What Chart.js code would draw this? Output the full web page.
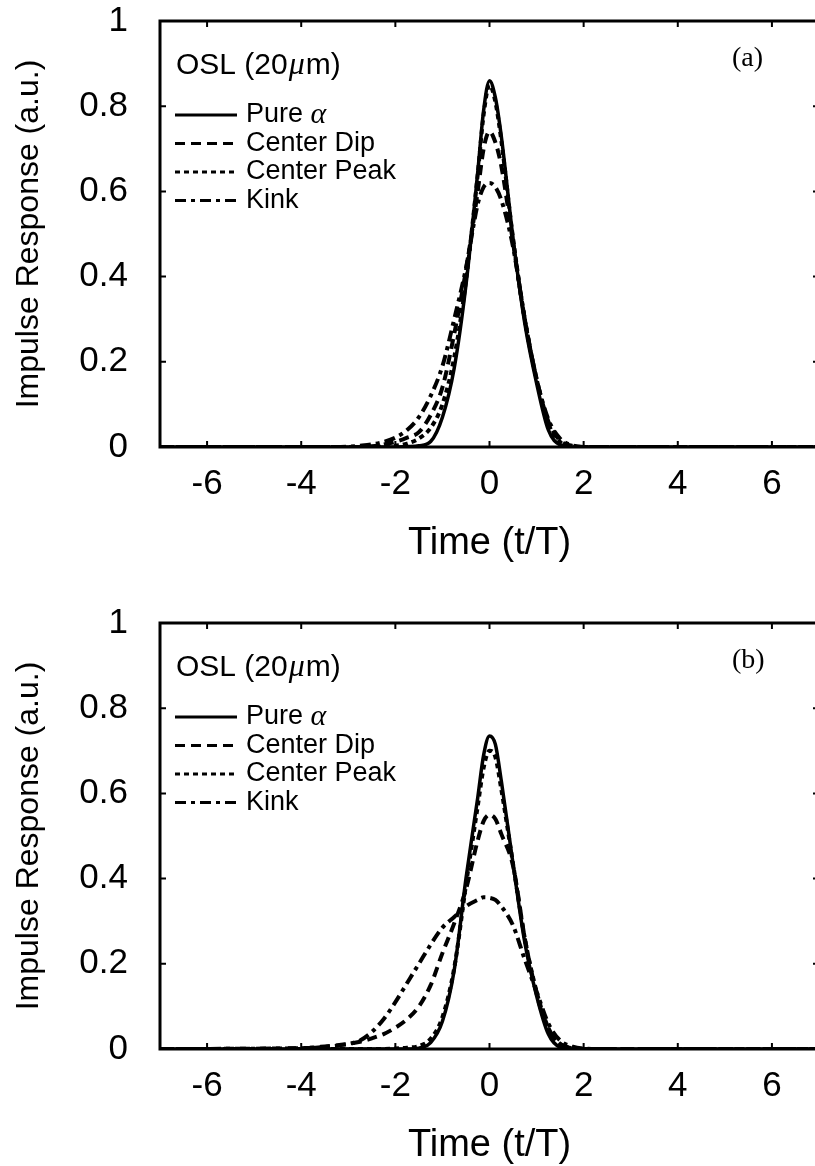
<!DOCTYPE html>
<html lang="en">
<head>
<meta charset="UTF-8">
<title>Impulse Response</title>
<script src="https://cdn.jsdelivr.net/npm/chart.js"></script>
<style>
  body { margin: 0; background: #fff; overflow: hidden; }
  canvas { display: block; }
  #chartA { margin-top: -24px; }
  #chartB { margin-top: -5px; }
</style>
</head>
<body>
<canvas id="chartA" width="830" height="607"></canvas>
<canvas id="chartB" width="830" height="588"></canvas>
<script>
// sample times (t/T), shared by every curve
const timePoints = [-7, -4, -3.5, -3, -2.75, -2.5, -2.25, -2, -1.75, -1.5, -1.25, -1, -0.75, -0.5,
  -0.25, -0.125, 0, 0.125, 0.25, 0.5, 0.75, 1, 1.25, 1.5, 1.75, 2, 2.5, 7];

const seriesNames = ['Pure α', 'Center Dip', 'Center Peak', 'Kink'];

// panel (a)
const pureA = [0,0,0,0,0,0,0,0,0.001,0.003,0.013,0.07,0.185,0.38,0.645,0.79,0.86,0.82,0.73,0.49,0.29,0.15,0.04,0.005,0,0,0,0];
const dipA  = [0,0,0,0,0,0.002,0.006,0.012,0.022,0.035,0.075,0.14,0.265,0.415,0.6,0.7,0.74,0.715,0.66,0.48,0.3,0.16,0.06,0.015,0.003,0,0,0];
const peakA = [0,0,0,0,0,0,0.001,0.003,0.008,0.02,0.045,0.1,0.21,0.39,0.64,0.78,0.85,0.81,0.72,0.49,0.3,0.16,0.055,0.012,0.002,0,0,0];
const kinkA = [0,0,0,0.001,0.003,0.006,0.012,0.022,0.04,0.07,0.12,0.19,0.3,0.42,0.57,0.61,0.62,0.61,0.58,0.47,0.3,0.16,0.065,0.02,0.004,0,0,0];

// panel (b)
const pureB = [0,0,0,0,0,0,0,0,0,0.002,0.015,0.065,0.185,0.4,0.59,0.69,0.735,0.715,0.63,0.435,0.25,0.125,0.035,0.004,0,0,0,0];
const dipB  = [0,0.002,0.006,0.012,0.017,0.025,0.035,0.05,0.07,0.1,0.15,0.225,0.295,0.375,0.49,0.535,0.55,0.54,0.505,0.43,0.26,0.13,0.045,0.012,0.003,0,0,0];
const peakB = [0,0,0,0,0,0,0,0.001,0.003,0.007,0.024,0.075,0.19,0.385,0.57,0.66,0.7,0.685,0.61,0.435,0.26,0.135,0.05,0.012,0.002,0,0,0];
const kinkB = [0,0.002,0.005,0.012,0.02,0.04,0.07,0.11,0.155,0.2,0.245,0.285,0.31,0.335,0.35,0.356,0.355,0.35,0.335,0.29,0.21,0.135,0.06,0.02,0.006,0.001,0,0];

const xTicks = [-6, -4, -2, 0, 2, 4, 6];
const yTicks = [0, 0.2, 0.4, 0.6, 0.8, 1];

// line look for each series (solid, dashed, dotted, dash-dot)
const lineDash = [[], [10, 6], [5, 4], [11, 5, 4, 5]];
const lineWidth = [3.5, 4, 4, 4];

Chart.defaults.font.family = "'Liberation Sans', Arial, sans-serif";
Chart.defaults.color = '#000';

// frame with inward ticks + the in-plot legend and panel tag
const framePlugin = {
  id: 'frame',
  afterDraw(chart, args, opts) {
    const {ctx, chartArea: a, scales: {x, y}} = chart;
    ctx.save();
    ctx.strokeStyle = '#000';
    ctx.lineWidth = 2;
    ctx.setLineDash([]);
    x.ticks.forEach(t => {
      const px = x.getPixelForValue(t.value);
      ctx.beginPath();
      ctx.moveTo(px, a.bottom); ctx.lineTo(px, a.bottom - 6);
      ctx.moveTo(px, a.top); ctx.lineTo(px, a.top + 6);
      ctx.stroke();
    });
    y.ticks.forEach(t => {
      const py = y.getPixelForValue(t.value);
      ctx.beginPath();
      ctx.moveTo(a.left, py); ctx.lineTo(a.left + 6, py);
      ctx.moveTo(a.right, py); ctx.lineTo(a.right - 6, py);
      ctx.stroke();
    });
    ctx.lineWidth = 3;
    ctx.strokeRect(a.left, a.top, a.right - a.left, a.bottom - a.top);

    // header "OSL (20μm)"
    ctx.fillStyle = '#000';
    ctx.textBaseline = 'alphabetic';
    let tx = a.left + 16;
    const hy = a.top + 53;
    ctx.font = "30px 'Liberation Sans'";
    ctx.fillText('OSL (20', tx, hy);
    tx += ctx.measureText('OSL (20').width + 1;
    ctx.font = "italic 32px 'Liberation Serif'";
    ctx.fillText('μ', tx, hy);
    tx += ctx.measureText('μ').width + 1;
    ctx.font = "30px 'Liberation Sans'";
    ctx.fillText('m)', tx, hy);

    // legend rows
    chart.data.datasets.forEach((ds, i) => {
      const ry = a.top + 94 + i * 28.5;
      ctx.lineWidth = 3;
      ctx.setLineDash(ds.borderDash);
      ctx.beginPath();
      ctx.moveTo(a.left + 15, ry);
      ctx.lineTo(a.left + 77, ry);
      ctx.stroke();
      ctx.setLineDash([]);
      ctx.font = "27px 'Liberation Sans'";
      ctx.textBaseline = 'middle';
      const parts = ds.label.split('α');
      ctx.fillText(parts[0], a.left + 86, ry);
      if (parts.length > 1) {
        const w = ctx.measureText(parts[0]).width;
        ctx.font = "italic 30px 'Liberation Serif'";
        ctx.fillText('α', a.left + 86 + w, ry);
      }
    });

    // panel tag
    ctx.font = "28px 'Liberation Serif'";
    ctx.textBaseline = 'alphabetic';
    ctx.fillText(opts.tag, 732, a.top + 45);
    ctx.restore();
  }
};

function makeChart(id, series, cfg) {
  const datasets = series.map((vals, i) => ({
    label: seriesNames[i],
    data: timePoints.map((t, k) => ({x: t, y: vals[k]})),
    borderColor: '#000',
    borderWidth: lineWidth[i],
    borderDash: lineDash[i],
    pointRadius: 0,
    cubicInterpolationMode: 'monotone',
    fill: false
  }));
  const chart = new Chart(document.getElementById(id), {
    type: 'line',
    data: {datasets},
    options: {
      responsive: false,
      animation: false,
      devicePixelRatio: 1,
      layout: {padding: {top: cfg.plotTop, right: 11, bottom: 0, left: 0}},
      plugins: {legend: {display: false}, tooltip: {enabled: false}, frame: {tag: cfg.tag}},
      scales: {
        x: {
          type: 'linear', min: -7, max: 7,
          afterBuildTicks: s => { s.ticks = xTicks.map(v => ({value: v})); },
          afterFit: s => { s.height = cfg.xHeight; },
          grid: {display: false},
          border: {display: false},
          ticks: {font: {size: 35}, padding: cfg.xTickPad, maxRotation: 0, callback: v => String(v)},
          title: {display: true, text: 'Time (t/T)', font: {size: 38, lineHeight: 1}, padding: {top: 0, bottom: cfg.xTitlePad}}
        },
        y: {
          min: 0, max: 1,
          afterBuildTicks: s => { s.ticks = yTicks.map(v => ({value: v})); },
          afterFit: s => { s.width = 160; },
          grid: {display: false},
          border: {display: false},
          ticks: {font: {size: 35}, padding: 24, callback: v => String(Math.round(v * 10) / 10)},
          title: {display: true, text: 'Impulse Response (a.u.)', font: {size: 32, lineHeight: 1}, padding: {top: 13, bottom: 0}}
        }
      }
    },
    plugins: [framePlugin]
  });
  // keep the plot bottom where the figure has it
  for (let k = 0; k < 3; k++) {
    const db = chart.chartArea.bottom - cfg.plotBottom;
    if (Math.abs(db) < 0.5) break;
    cfg.xHeight += db;
    chart.update();
  }
  return chart;
}

makeChart('chartA', [pureA, dipA, peakA, kinkA], {plotTop: 45, plotBottom: 471, xHeight: 136, xTickPad: 8, xTitlePad: 20, tag: '(a)'});
makeChart('chartB', [pureB, dipB, peakB, kinkB], {plotTop: 45, plotBottom: 471, xHeight: 117, xTickPad: 8, xTitlePad: 1, tag: '(b)'});
</script>
</body>
</html>
